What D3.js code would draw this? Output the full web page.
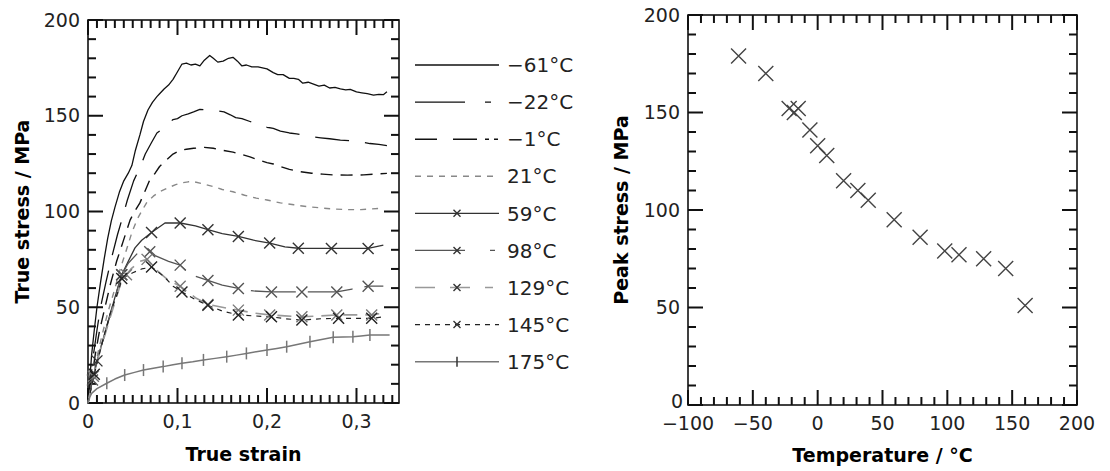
<!DOCTYPE html>
<html><head><meta charset="utf-8">
<script src="https://cdn.jsdelivr.net/npm/d3@7"></script>
<style>
body{margin:0;background:#fff;}
text{font-family:"DejaVu Sans",sans-serif;}
</style></head>
<body><svg id="c" width="1110" height="471"></svg>
<script>
// ---------- DATA ----------
const strainTicks = [0, 0.1, 0.2, 0.3];
const stressTicks = [0, 50, 100, 150, 200];
const tempTicks = [-100, -50, 0, 50, 100, 150, 200];
const seriesLabels = ["−61°C","−22°C","−1°C","21°C","59°C","98°C","129°C","145°C","175°C"];

const sM61 = [[0,0],[0.002,12],[0.004,25],[0.007,38],[0.01,50],[0.014,63],[0.018,75],[0.022,86],[0.026,95],[0.03,102],[0.035,110],[0.04,116],[0.045,120],[0.049,124],[0.053,132],[0.058,140],[0.062,147],[0.067,153],[0.072,157],[0.077,160],[0.08,161.5],[0.085,164],[0.09,166],[0.095,169],[0.1,173],[0.105,177],[0.11,177.5],[0.115,176.5],[0.12,177],[0.125,176],[0.13,179],[0.136,181.5],[0.14,180],[0.145,178],[0.151,178.5],[0.157,180],[0.162,180.5],[0.167,178.5],[0.172,176],[0.177,176.5],[0.183,175.5],[0.19,175.5],[0.2,174.5],[0.207,172.5],[0.212,171.5],[0.218,171.5],[0.225,169.5],[0.23,169.5],[0.235,169],[0.24,167],[0.246,167.5],[0.252,166.5],[0.258,165.5],[0.264,166],[0.27,164.5],[0.276,164.8],[0.282,164],[0.288,163.5],[0.293,163.8],[0.3,162.5],[0.306,162],[0.312,161.5],[0.319,160.8],[0.325,161.2],[0.33,161],[0.334,162.5]];
const sM22 = [[0,0],[0.003,12],[0.006,25],[0.01,38],[0.014,50],[0.02,63],[0.027,77],[0.033,88],[0.038,96],[0.044,106],[0.051,116],[0.058,123],[0.064,130],[0.071,136],[0.077,141],[0.083,143],[0.09,146],[0.095,148],[0.1,148.5],[0.105,150],[0.112,151],[0.118,152],[0.125,153.3],[0.135,153],[0.145,152.5],[0.152,152],[0.159,150.5],[0.165,149],[0.172,148.5],[0.181,147],[0.19,145.5],[0.2,144],[0.207,143.4],[0.215,142],[0.225,141],[0.233,140.5],[0.241,139.9],[0.25,139],[0.26,138.5],[0.27,138],[0.282,137.3],[0.292,137],[0.304,136.4],[0.315,135.5],[0.325,135],[0.334,134.4]];
const sM1 = [[0,0],[0.004,12],[0.008,25],[0.013,38],[0.018,48],[0.025,62],[0.032,74],[0.039,84],[0.047,95.5],[0.052,100],[0.058,104.5],[0.064,111],[0.069,116.5],[0.075,120],[0.08,123.5],[0.088,127],[0.095,130],[0.103,132],[0.11,132.5],[0.118,133],[0.13,133.5],[0.14,133],[0.15,132],[0.162,131],[0.17,130],[0.181,128.5],[0.19,127],[0.2,125.5],[0.207,124.8],[0.215,123.5],[0.225,122],[0.237,120.8],[0.25,120],[0.262,119.5],[0.274,119.1],[0.29,119],[0.308,119.1],[0.32,119.5],[0.334,119.9]];
const s21 = [[0,0],[0.005,12],[0.01,24],[0.016,36],[0.022,47],[0.029,58],[0.036,70],[0.043,80],[0.049,89],[0.055,96],[0.061,101],[0.066,105],[0.073,108],[0.08,110.3],[0.09,112.5],[0.098,114],[0.105,115],[0.112,115.5],[0.118,115.6],[0.128,114.5],[0.14,113],[0.15,111.5],[0.162,110.3],[0.175,108.5],[0.188,107],[0.2,106],[0.215,104.5],[0.23,103.5],[0.237,103],[0.25,102.3],[0.262,101.8],[0.274,101.3],[0.29,101],[0.305,101],[0.315,101.3],[0.326,101.6]];
const s59 = [[0,0],[0.004,10],[0.01,22],[0.02,38],[0.03,55],[0.0377,67],[0.045,74],[0.0525,81],[0.06,85],[0.071,89],[0.086,94],[0.103,94],[0.12,92.5],[0.134,90.5],[0.15,88.5],[0.168,87],[0.185,85],[0.203,83.5],[0.22,81.5],[0.235,80.8],[0.255,80.7],[0.272,80.7],[0.29,80.7],[0.313,80.7],[0.33,82.5]];
const s98 = [[0,0],[0.005,12],[0.012,25],[0.022,42],[0.03,55],[0.0377,67],[0.045,73],[0.055,78],[0.066,81],[0.075,77],[0.09,74],[0.103,72],[0.115,67],[0.134,64],[0.15,61.5],[0.168,59.8],[0.185,58.5],[0.205,58],[0.22,58],[0.239,58],[0.26,58],[0.278,58],[0.295,59.5],[0.313,61],[0.33,61]];
const s129 = [[0,0],[0.006,14],[0.014,28],[0.025,45],[0.0377,64],[0.048,70],[0.058,74],[0.066,75],[0.075,70],[0.09,64],[0.103,61],[0.12,55],[0.134,51.5],[0.15,50],[0.168,48.5],[0.185,47],[0.203,46],[0.22,45.5],[0.239,45],[0.26,45.5],[0.278,46],[0.3,46],[0.317,46],[0.33,47]];
const s145 = [[0,0],[0.007,15],[0.015,30],[0.025,47],[0.035,60],[0.0377,65],[0.05,68],[0.06,70],[0.071,71],[0.085,66],[0.095,61],[0.105,58],[0.12,54],[0.134,51],[0.15,48],[0.168,46],[0.185,45.5],[0.205,45],[0.22,44],[0.239,43.3],[0.26,44],[0.28,44.2],[0.3,44.2],[0.317,44.2],[0.33,45]];
const s175 = [[0,0],[0.002,3],[0.004,5],[0.01,7.5],[0.021,10.3],[0.03,12.5],[0.041,14.6],[0.052,16],[0.062,17.2],[0.073,18.2],[0.084,19],[0.095,20],[0.105,20.7],[0.117,21.5],[0.129,22.5],[0.142,23.3],[0.155,24.2],[0.166,25],[0.177,25.9],[0.188,26.8],[0.2,27.7],[0.211,28.5],[0.222,29.4],[0.235,30.7],[0.248,32],[0.261,33.2],[0.274,34.3],[0.285,34.5],[0.296,34.6],[0.305,35],[0.315,35.5],[0.326,35.5],[0.337,35.5]];

const m59 = [[0.01,22],[0.0377,67],[0.071,89],[0.103,94],[0.134,90.5],[0.168,87],[0.203,83.5],[0.235,80.8],[0.272,80.7],[0.313,80.7]];
const m98 = [[0.005,12],[0.0377,67],[0.069,79],[0.103,72],[0.134,64],[0.168,59.8],[0.205,58],[0.239,58],[0.278,58],[0.313,61]];
const m129 = [[0.006,14],[0.043,67],[0.066,75],[0.103,61],[0.134,51.5],[0.168,48.5],[0.203,46],[0.239,45],[0.278,46],[0.317,46]];
const m145 = [[0.007,15],[0.0377,65],[0.071,71],[0.105,58],[0.134,51],[0.168,46],[0.205,45],[0.239,43.3],[0.28,44.2],[0.317,44.2]];
const m175 = [[0.021,10.3],[0.041,14.6],[0.062,17.2],[0.084,19],[0.105,20.7],[0.129,22.5],[0.155,24.2],[0.177,25.9],[0.2,27.7],[0.222,29.4],[0.248,32],[0.274,34.3],[0.296,34.6],[0.315,35.5]];

const peakTemps = [-61,-40,-22,-15,-18,-6,0,7,20,31,39,59,79,98,109,128,145,160];
const peakStress = [179,170,152,152,150,141,133,128,115,110,105,95,86,79,77,75,70,51];

// ---------- STYLES ----------
const seriesData = [sM61,sM22,sM1,s21,s59,s98,s129,s145,s175];
const seriesMarks = [null,null,null,null,m59,m98,m129,m145,m175];
const styles = [
 {c:"#111",d:null,ld:null,w:1.3,m:null},
 {c:"#111",d:"34,16",ld:"50,20,6,30",w:1.3,m:null},
 {c:"#111",d:"12,8",ld:"22,16,24,8,4,5,4,30",w:1.4,m:null},
 {c:"#888",d:"6,6",ld:"6,6",w:1.4,m:null},
 {c:"#333",d:null,ld:null,w:1.3,m:"x"},
 {c:"#555",d:"45,12",ld:"50,25,5,30",w:1.3,m:"x"},
 {c:"#999",d:"14,8",ld:"20,15,20,15,8,30",w:1.6,m:"x"},
 {c:"#222",d:"5,5",ld:"5,5",w:1.2,m:"x"},
 {c:"#777",d:null,ld:null,w:1.5,m:"+"}
];

const svg = d3.select("#c");
const FS = 19;

function frameAxes(g, x, y, xMinor, yMinor, xMajor, yMajor, xFmt, yFmt, W, H){
  const isMaj = (arr,v)=>arr.some(a=>Math.abs(a-v)<1e-9);
  const segs = [];
  xMinor.forEach(v=>{
    const len = isMaj(xMajor,v)?15:8, px = x(v);
    segs.push([px,H,px,H-len]);
    segs.push([px,0,px,len]);
  });
  yMinor.forEach(v=>{
    const len = isMaj(yMajor,v)?15:8, py = y(v);
    segs.push([0,py,len,py]);
    segs.push([W,py,W-len,py]);
  });
  g.selectAll("line.tick").data(segs).join("line").attr("class","tick")
    .attr("x1",d=>d[0]).attr("y1",d=>d[1]).attr("x2",d=>d[2]).attr("y2",d=>d[3])
    .style("stroke","#111").style("stroke-width","2px");
  const lab = g.append("g").attr("font-size",FS).attr("fill","#222");
  xMajor.forEach(v=>lab.append("text").attr("x",x(v)).attr("y",H+18).attr("dy","0.35em").attr("text-anchor","middle").text(xFmt(v)));
  yMajor.forEach(v=>lab.append("text").attr("x",-8).attr("y",y(v)).attr("dy","0.35em").attr("text-anchor","end").text(yFmt(v)));
  g.append("rect").attr("width",W).attr("height",H).attr("fill","none").attr("stroke","#111").attr("stroke-width",1.6);
  return lab;
}

// ---------- LEFT CHART ----------
const L = {x0:88,x1:399,y0:20,y1:403};
const gl = svg.append("g").attr("transform",`translate(${L.x0},${L.y0})`);
const WL = L.x1-L.x0, HL = L.y1-L.y0;
const xs = d3.scaleLinear().domain([0,0.3475]).range([0,WL]);
const ys = d3.scaleLinear().domain([0,200]).range([HL,0]);
frameAxes(gl, xs, ys, d3.range(0,35).map(i=>i/100), d3.range(0,21).map(i=>i*10), strainTicks, stressTicks,
  d=> d===0?"0":d.toFixed(1).replace(".",","), d=>d, WL, HL);

const line = d3.line().x(d=>xs(d[0])).y(d=>ys(d[1]));
const plot = gl.append("g");
seriesData.forEach((s,i)=>{
  const st = styles[i];
  plot.append("path").datum(s).attr("d",line).attr("fill","none").attr("stroke",st.c)
    .attr("stroke-width",st.w).attr("stroke-dasharray",st.d).attr("stroke-linejoin","round");
});
function drawMarker(g, cx, cy, type, color, r){
  if(type==="x"){
    g.append("path").attr("d",`M${cx-r},${cy-r}L${cx+r},${cy+r}M${cx-r},${cy+r}L${cx+r},${cy-r}`)
      .attr("stroke",color).attr("stroke-width",1.4).attr("fill","none");
  } else if(type==="+"){
    g.append("path").attr("d",`M${cx},${cy-r}L${cx},${cy+r}`).attr("stroke",color).attr("stroke-width",1.5);
  }
}
seriesMarks.forEach((ms,i)=>{
  if(!ms) return;
  ms.forEach(p=>drawMarker(plot, xs(p[0]), ys(p[1]), styles[i].m, styles[i].c==="#999"?"#777":styles[i].c, styles[i].m==="x"?5.5:6));
});

gl.append("text").attr("x",WL/2).attr("y",454-L.y0).attr("text-anchor","middle").attr("font-weight","bold")
  .attr("font-size",FS).attr("dy","0.35em").text("True strain");
svg.append("text").attr("transform",`translate(22,${(L.y0+L.y1)/2}) rotate(-90)`).attr("text-anchor","middle")
  .attr("font-weight","bold").attr("font-size",FS).attr("dy","0.35em").text("True stress / MPa");

// ---------- LEGEND ----------
const lg = svg.append("g");
const rowY = d3.scaleLinear().domain([0,8]).range([65,361.7]);
seriesLabels.forEach((lab,i)=>{
  const st = styles[i], y = rowY(i);
  lg.append("line").attr("x1",415).attr("x2",499).attr("y1",y).attr("y2",y).attr("stroke",st.c)
    .attr("stroke-width",st.w).attr("stroke-dasharray",st.ld);
  if(st.m) drawMarker(lg, 457, y, st.m, "#333", st.m==="x"?3.5:5);
  lg.append("text").attr("x",507).attr("y",y).attr("dy","0.36em").attr("font-size",20).attr("fill","#222").text(lab);
});

// ---------- RIGHT CHART ----------
const R = {x0:688,x1:1077,y0:15,y1:405};
const gr = svg.append("g").attr("transform",`translate(${R.x0},${R.y0})`);
const WR = R.x1-R.x0, HR = R.y1-R.y0;
const xt = d3.scaleLinear().domain([-100,200]).range([0,WR]);
const yt = d3.scaleLinear().domain([0,200]).range([HR,0]);
const labR = frameAxes(gr, xt, yt, d3.range(-100,201,10), d3.range(0,201,10), tempTicks, stressTicks,
  d=> d<0? "−"+Math.abs(d) : String(d), d=>d, WR, HR);
labR.selectAll("text").filter(function(){return this.getAttribute("text-anchor")==="end" && this.textContent==="0";})
  .attr("y", yt(0)-4).attr("x",-5);
peakTemps.forEach((t,i)=>drawMarker(gr, xt(t), yt(peakStress[i]), "x", "#444", 7.5));
gr.append("text").attr("x",WR/2).attr("y",455-R.y0).attr("text-anchor","middle").attr("font-weight","bold")
  .attr("font-size",FS).attr("dy","0.35em").text("Temperature / °C");
svg.append("text").attr("transform",`translate(621,${(R.y0+R.y1)/2}) rotate(-90)`).attr("text-anchor","middle")
  .attr("font-weight","bold").attr("font-size",FS).attr("dy","0.35em").text("Peak stress / MPa");
</script></body></html>
